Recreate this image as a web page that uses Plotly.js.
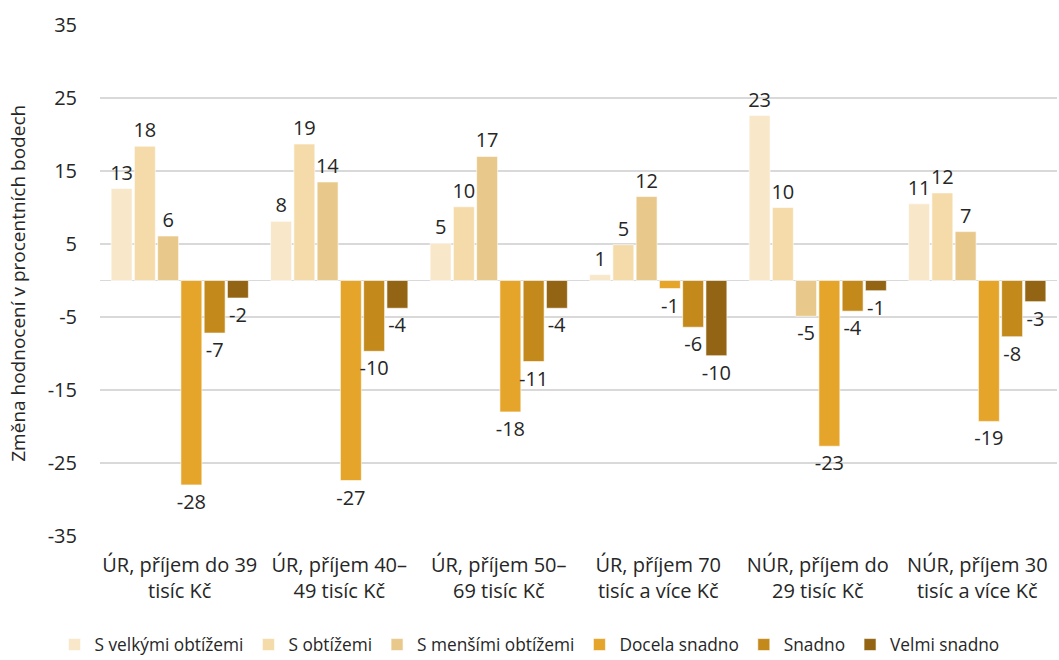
<!DOCTYPE html>
<html>
<head>
<meta charset="utf-8">
<script src="https://cdn.plot.ly/plotly-3.0.1.min.js"></script>
<style>html,body{margin:0;padding:0;background:#fff;}#chart{width:1059px;height:660px;}</style>
</head>
<body>
<div id="chart"></div>
<script>
const categories = [
  "ÚR, příjem do 39<br>tisíc Kč",
  "ÚR, příjem 40–<br>49 tisíc Kč",
  "ÚR, příjem 50–<br>69 tisíc Kč",
  "ÚR, příjem 70<br>tisíc a více Kč",
  "NÚR, příjem do<br>29 tisíc Kč",
  "NÚR, příjem 30<br>tisíc a více Kč"
];
const seriesNames = ["S velkými obtížemi", "S obtížemi", "S menšími obtížemi", "Docela snadno", "Snadno", "Velmi snadno"];
const sVelkymiObtizemi = [12.6, 8.1, 5.1, 0.8, 22.6, 10.5];
const sObtizemi        = [18.4, 18.7, 10.1, 4.9, 10.0, 12.0];
const sMensimiObtizemi = [6.1, 13.5, 17.0, 11.5, -4.9, 6.7];
const docelaSnadno     = [-28.0, -27.4, -18.0, -1.1, -22.7, -19.3];
const snadno           = [-7.2, -9.7, -11.1, -6.4, -4.2, -7.7];
const velmiSnadno      = [-2.4, -3.8, -3.8, -10.3, -1.4, -2.9];
const yTickVals  = [-35, -25, -15, -5, 5, 15, 25, 35];
const yTickText  = ["-35", "-25", "-15", "-5", "5", "15", "25", "35"];
const yTitle = "Změna hodnocení v procentních bodech";
const colors = ["#F8E7C9", "#F5DBA9", "#E9C98B", "#E5A42A", "#C3891B", "#926413"];

const allSeries = [sVelkymiObtizemi, sObtizemi, sMensimiObtizemi, docelaSnadno, snadno, velmiSnadno];
const FONT = "'Open Sans', Lato, sans-serif";

const traces = allSeries.map((vals, i) => ({
  type: "bar",
  name: seriesNames[i],
  x: categories,
  y: vals,
  marker: {color: colors[i], line: {color: "rgba(255,255,255,0.6)", width: 1}},
  text: vals.map(v => String(Math.round(v))),
  textposition: "outside",
  constraintext: "none",
  textfont: {family: FONT, size: 20, color: "#262626"},
  cliponaxis: false,
  hoverinfo: "x+y"
}));

const layout = {
  width: 1059, height: 660,
  margin: {l: 100, r: 2, t: 25, b: 124, autoexpand: false},
  paper_bgcolor: "#fff", plot_bgcolor: "#fff",
  font: {family: FONT, size: 20, color: "#262626"},
  barmode: "group",
  bargap: 0.125,
  bargroupgap: 0.1,
  showlegend: true,
  legend: {
    orientation: "h", xref: "container", yref: "container",
    x: 0.5, xanchor: "center", y: 0.023, yanchor: "middle",
    font: {family: FONT, size: 17.3, color: "#262626"},
    itemwidth: 30, tracegroupgap: 0, traceorder: "normal"
  },
  xaxis: {
    type: "category", automargin: false,
    tickfont: {family: FONT, size: 20, color: "#262626"},
    showgrid: false, showline: false, zeroline: false, ticks: "",
    ticklabelstandoff: 15
  },
  yaxis: {
    range: [-35, 35], automargin: false,
    tickmode: "array", tickvals: yTickVals, ticktext: yTickText,
    tickfont: {family: FONT, size: 20, color: "#262626"},
    gridcolor: "#D9D9D9", gridwidth: 1.5,
    zeroline: true, zerolinecolor: "#D9D9D9", zerolinewidth: 1.5,
    showline: false, ticks: "", ticklen: 0,
    ticklabelstandoff: 22
  },
  annotations: [{
    text: yTitle, xref: "paper", yref: "paper", x: -0.086, y: 0.495,
    xanchor: "center", yanchor: "middle", textangle: -90, showarrow: false,
    font: {family: FONT, size: 19, color: "#262626"}
  }]
};

Plotly.newPlot("chart", traces, layout, {displayModeBar: false, staticPlot: true});
</script>
</body>
</html>
